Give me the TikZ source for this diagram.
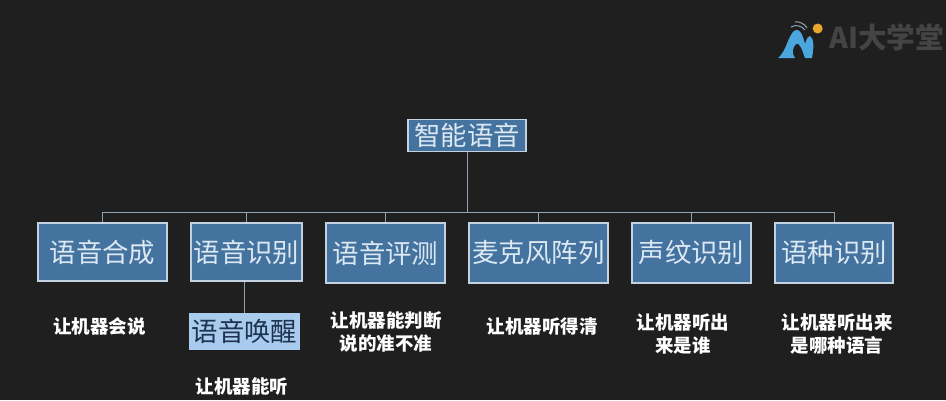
\documentclass[tikz,border=0pt]{standalone}
\usepackage{fontspec}
\setmainfont{Noto Sans CJK SC}
\usepackage{xcolor}
\usetikzlibrary{positioning}
\definecolor{bgdark}{HTML}{1F1F1F}
\definecolor{boxblue}{HTML}{44739F}
\definecolor{boxedge}{HTML}{C4D2E0}
\definecolor{wakeblue}{HTML}{A8CBEE}
\definecolor{wakeink}{HTML}{1E3350}
\definecolor{linkgray}{HTML}{8FA3B5}
\definecolor{boxink}{HTML}{DCE8F2}
\definecolor{logoblue}{HTML}{4BA6DF}
\definecolor{logodot}{HTML}{E9A62E}
\definecolor{logogray}{HTML}{444444}
\tikzset{
  topic/.style={rectangle,draw=boxedge,fill=boxblue,text=boxink,line width=1.2pt,font=\fontsize{26.4}{30}\selectfont,inner sep=0pt,anchor=center},
  wake/.style={rectangle,fill=wakeblue,text=wakeink,font=\fontsize{26.4}{30}\selectfont,inner sep=0pt},
  note/.style={text=white,align=center,font=\fontsize{18.5}{23}\selectfont\bfseries,inner sep=0pt},
  link/.style={draw=linkgray,line width=1pt}
}
\begin{document}
\begin{tikzpicture}[x=1pt,y=-1pt]
  \fill[bgdark] (0,0) rectangle (946,400);
  \useasboundingbox (0,0) rectangle (946,400);

  \node[topic,minimum width=118pt,minimum height=32pt] (root) at (467,135.5) {智能语音};
  \node[topic,minimum width=129pt,minimum height=58pt] (synth) at (102.5,252) {语音合成};
  \node[topic,minimum width=111pt,minimum height=58pt] (recog) at (246.5,252) {语音识别};
  \node[topic,minimum width=119pt,minimum height=60pt] (score) at (385.5,253) {语音评测};
  \node[topic,minimum width=139pt,minimum height=60pt] (array) at (538.5,253) {麦克风阵列};
  \node[topic,minimum width=119pt,minimum height=60pt] (voice) at (691.5,253) {声纹识别};
  \node[topic,minimum width=118pt,minimum height=60pt] (lang) at (834,253) {语种识别};
  \node[wake,minimum width=111pt,minimum height=37pt] (wakeup) at (244.5,331.5) {语音唤醒};

  \coordinate (bus) at (467,212);
  \draw[link] (root) -- (bus);
  \foreach \to in {synth,recog,score,array,voice,lang}
    \draw[link] (bus) -| (\to);
  \draw[link] (wakeup) -- (wakeup |- recog.south);

  \node[note] (n1) at (99.5,326) {让机器会说};
  \node[note] (n2) at (242,387) {让机器能听};
  \node[note] (n3) at (386,331.5) {让机器能判断\\说的准不准};
  \node[note] (n4) at (542,327) {让机器听得清};
  \node[note] (n5) at (683,334) {让机器听出\\来是谁};
  \node[note] (n6) at (837,334) {让机器听出来\\是哪种语言};

  % logo
  \fill[logoblue] (778,58) .. controls (786,52) and (788,36) .. (794,31)
    .. controls (800,27) and (803,36) .. (805,44) .. controls (807,38) and (808,36) .. (810,36)
    .. controls (814,38) and (814,48) .. (812,58) -- (805,58)
    .. controls (802,50) and (800,42) .. (796,44) .. controls (792,48) and (792,54) .. (795,58) -- cycle;
  \draw[linkgray,line width=1pt] (791,27) .. controls (796,24) and (802,26) .. (805,30);
  \draw[linkgray,line width=1pt] (795,22) .. controls (799,21) and (805,24) .. (807,28);
  \fill[logodot] (817.7,28.5) circle (5pt);
  \node[text=logogray,font=\fontsize{28.6}{30}\selectfont\bfseries,inner sep=0pt,anchor=west] (brand) at (829,37.5) {AI大学堂};
\end{tikzpicture}
\end{document}
